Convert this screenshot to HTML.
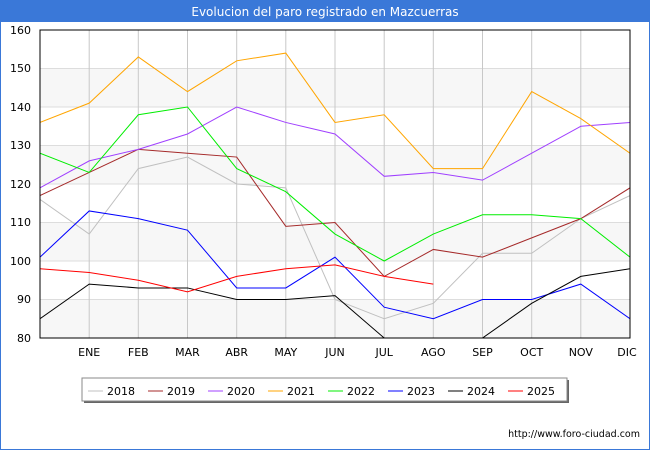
<!DOCTYPE html>
<html><head><meta charset="utf-8"><style>
body{margin:0;width:650px;height:450px;overflow:hidden;background:#fff}
</style></head><body>
<svg width="650" height="450" xmlns="http://www.w3.org/2000/svg" font-family="DejaVu Sans, Liberation Sans, sans-serif">
<rect x="0" y="0" width="650" height="450" fill="#fff" stroke="#3a78d8" stroke-width="2"/>
<rect x="0" y="0" width="650" height="22" fill="#3a78d8"/>
<text x="325" y="16" text-anchor="middle" fill="#fff" font-size="12">Evolucion del paro registrado en Mazcuerras</text>
<g fill="#f7f7f7">
<rect x="40" y="68.5" width="590" height="38.5"/>
<rect x="40" y="145.5" width="590" height="38.5"/>
<rect x="40" y="222.5" width="590" height="38.5"/>
<rect x="40" y="299.5" width="590" height="38.5"/>
</g>
<g stroke="#ddd" stroke-width="1">
<line x1="40" x2="630" y1="68.5" y2="68.5"/><line x1="40" x2="630" y1="107" y2="107"/>
<line x1="40" x2="630" y1="145.5" y2="145.5"/><line x1="40" x2="630" y1="184" y2="184"/>
<line x1="40" x2="630" y1="222.5" y2="222.5"/><line x1="40" x2="630" y1="261" y2="261"/>
<line x1="40" x2="630" y1="299.5" y2="299.5"/>
</g>
<g stroke="#c8c8c8" stroke-width="1">
<line x1="89.2" x2="89.2" y1="30" y2="338"/><line x1="138.3" x2="138.3" y1="30" y2="338"/>
<line x1="187.5" x2="187.5" y1="30" y2="338"/><line x1="236.7" x2="236.7" y1="30" y2="338"/>
<line x1="285.8" x2="285.8" y1="30" y2="338"/><line x1="335" x2="335" y1="30" y2="338"/>
<line x1="384.2" x2="384.2" y1="30" y2="338"/><line x1="433.3" x2="433.3" y1="30" y2="338"/>
<line x1="482.5" x2="482.5" y1="30" y2="338"/><line x1="531.7" x2="531.7" y1="30" y2="338"/>
<line x1="580.8" x2="580.8" y1="30" y2="338"/>
</g>
<defs><clipPath id="c"><rect x="40" y="30" width="590" height="308"/></clipPath></defs>
<g fill="none" stroke-width="1" clip-path="url(#c)">
<polyline stroke="#c0c0c0" points="40,199.4 89.2,234.05 138.3,168.6 187.5,157.05 236.7,184 285.8,187.85 335,299.5 384.2,318.75 433.3,303.35 482.5,253.3 531.7,253.3 580.8,218.65 630,195.55"/>
<polyline stroke="#a52a2a" points="40,195.55 89.2,172.45 138.3,149.35 187.5,153.2 236.7,157.05 285.8,226.35 335,222.5 384.2,276.4 433.3,249.45 482.5,257.15 531.7,237.9 580.8,218.65 630,187.85"/>
<polyline stroke="#a040ff" points="40,187.85 89.2,160.9 138.3,149.35 187.5,134 236.7,107 285.8,122.45 335,134 384.2,176.3 433.3,172.45 482.5,180.15 531.7,153.2 580.8,126.3 630,122.45"/>
<polyline stroke="#ffa500" points="40,122.45 89.2,103.15 138.3,56.95 187.5,91.6 236.7,60.8 285.8,53.1 335,122.45 384.2,114.75 433.3,168.6 482.5,168.6 531.7,91.6 580.8,118.6 630,153.2"/>
<polyline stroke="#00ee00" points="40,153.2 89.2,172.45 138.3,114.75 187.5,107 236.7,168.6 285.8,191.7 335,234.05 384.2,261 433.3,234.05 482.5,214.8 531.7,214.8 580.8,218.65 630,257.15"/>
<polyline stroke="#0000ff" points="40,257.15 89.2,210.95 138.3,218.65 187.5,230.2 236.7,287.95 285.8,287.95 335,257.15 384.2,307.2 433.3,318.75 482.5,299.5 531.7,299.5 580.8,284.1 630,318.75"/>
<polyline stroke="#000" points="40,318.75 89.2,284.1 138.3,287.95 187.5,287.95 236.7,299.5 285.8,299.5 335,295.65 384.2,338 433.3,349.6 482.5,338 531.7,303.35 580.8,276.4 630,268.7"/>
<polyline stroke="#ff0000" points="40,268.7 89.2,272.55 138.3,280.25 187.5,291.8 236.7,276.4 285.8,268.7 335,264.85 384.2,276.4 433.3,284.1"/>
</g>
<rect x="40" y="30" width="590" height="308" fill="none" stroke="#000" stroke-width="1"/>
<g font-size="11" fill="#000" text-anchor="end">
<text x="31" y="34">160</text><text x="31" y="72">150</text><text x="31" y="111">140</text>
<text x="31" y="149">130</text><text x="31" y="188">120</text><text x="31" y="226">110</text>
<text x="31" y="265">100</text><text x="31" y="303">90</text><text x="31" y="342">80</text>
</g>
<g font-size="11" fill="#000" text-anchor="middle">
<text x="89.2" y="356">ENE</text><text x="138.3" y="356">FEB</text><text x="187.5" y="356">MAR</text>
<text x="236.7" y="356">ABR</text><text x="285.8" y="356">MAY</text><text x="335" y="356">JUN</text>
<text x="384.2" y="356">JUL</text><text x="433.3" y="356">AGO</text><text x="482.5" y="356">SEP</text>
<text x="531.7" y="356">OCT</text><text x="580.8" y="356">NOV</text><text x="627" y="356">DIC</text>
</g>
<rect x="84" y="380" width="485" height="23" fill="#666"/>
<rect x="82" y="378" width="485" height="23" fill="#fff" stroke="#888"/>
<g font-size="11" fill="#000">
<line x1="88" x2="103" y1="391" y2="391" stroke="#c0c0c0"/><text x="107" y="395">2018</text>
<line x1="148" x2="163" y1="391" y2="391" stroke="#a52a2a"/><text x="167" y="395">2019</text>
<line x1="208" x2="223" y1="391" y2="391" stroke="#a040ff"/><text x="227" y="395">2020</text>
<line x1="268" x2="283" y1="391" y2="391" stroke="#ffa500"/><text x="287" y="395">2021</text>
<line x1="328" x2="343" y1="391" y2="391" stroke="#00ee00"/><text x="347" y="395">2022</text>
<line x1="388" x2="403" y1="391" y2="391" stroke="#0000ff"/><text x="407" y="395">2023</text>
<line x1="448" x2="463" y1="391" y2="391" stroke="#000"/><text x="467" y="395">2024</text>
<line x1="508" x2="523" y1="391" y2="391" stroke="#ff0000"/><text x="527" y="395">2025</text>
</g>
<text x="640" y="437" text-anchor="end" font-size="9.5" fill="#000">http://www.foro-ciudad.com</text>
</svg>
</body></html>
